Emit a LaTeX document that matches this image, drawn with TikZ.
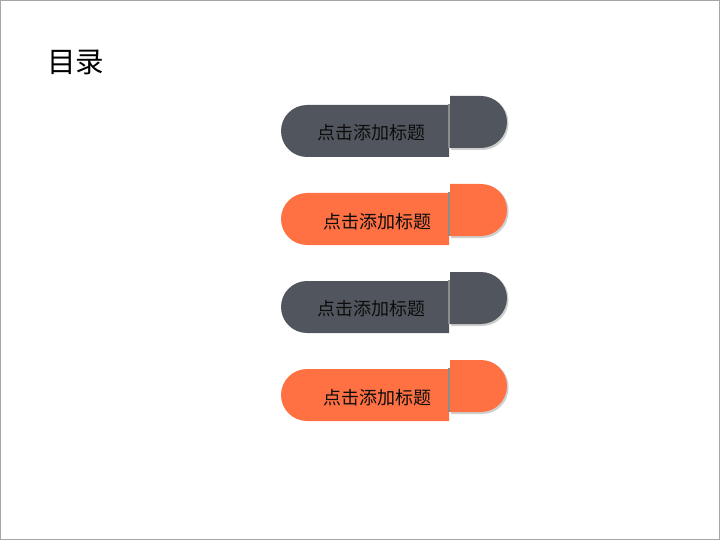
\documentclass[tikz,border=0pt]{standalone}
\usepackage{fontspec}
\newfontfamily\cjk{Noto Sans CJK SC}
\definecolor{darkbar}{HTML}{51565E}
\definecolor{orangebar}{HTML}{FF7043}
\definecolor{framegray}{HTML}{A6A6A6}
\definecolor{shadowgray}{HTML}{CFCFCF}
\tikzset{
  bartext/.style={font=\cjk\fontsize{18}{21}\selectfont, text=black!95, inner sep=0pt},
}
\begin{document}
\begin{tikzpicture}[x=1pt,y=-1pt]
\useasboundingbox (0,0) rectangle (720,540);
\draw[framegray, line width=1pt] (0.5,0.5) rectangle (719.5,539.5);
\node[font=\cjk\fontsize{28.5}{32}\selectfont, anchor=west, inner sep=0pt] (title) at (47,62) {目录};
\foreach \y/\c/\tx/\ty/\nm in {105/darkbar/371/28/b1, 193/orangebar/377/29/b2, 281/darkbar/371/28/b3, 369/orangebar/377/29/b4}{
  % left pill
  \fill[\c] (449,\y) {[rounded corners=26pt] -- (281,\y) -- (281,{\y+52})} -- (449,{\y+52}) -- cycle;
  % cap shadow
  \fill[shadowgray] (451,{\y-8}) {[rounded corners=26pt] -- (508.5,{\y-8}) -- (508.5,{\y+45})} -- (451,{\y+45}) -- cycle;
  \fill[black!45] (447.8,{\y-1}) rectangle (450.3,{\y+43});
  % cap
  \fill[\c] (450,{\y-9}) {[rounded corners=26pt] -- (507,{\y-9}) -- (507,{\y+43})} -- (450,{\y+43}) -- cycle;
  \node[bartext] (\nm) at (\tx,{\y+\ty}) {点击添加标题};
}
\end{tikzpicture}
\end{document}
